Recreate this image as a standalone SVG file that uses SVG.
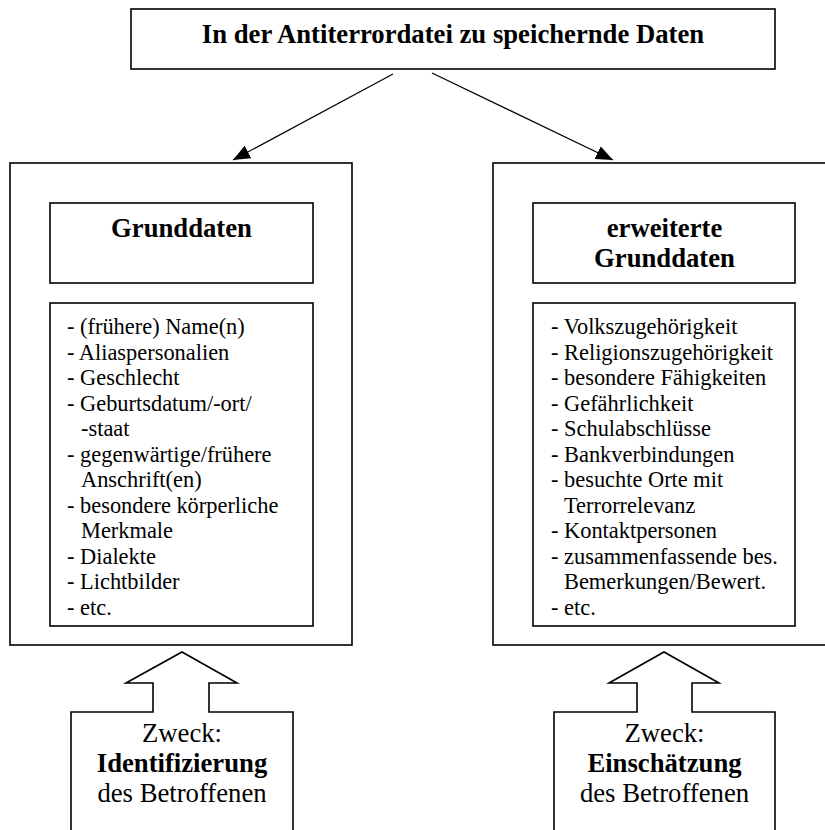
<svg xmlns="http://www.w3.org/2000/svg" width="825" height="830" viewBox="0 0 825 830">
<style>
.box{fill:#fff;stroke:#000;stroke-width:1.6}
.conn{fill:none;stroke:#000;stroke-width:1.2}
text{font-family:"Liberation Serif","Times New Roman",serif;fill:#000}
.title{font-size:26.7px;font-weight:bold;text-anchor:middle}
.item{font-size:22.4px}
.purpose{font-size:26.7px;text-anchor:middle}
</style>
<defs>
<marker id="ah" markerUnits="userSpaceOnUse" markerWidth="18" markerHeight="16" refX="17" refY="7" orient="auto">
<path d="M0,0 L17,7 L0,14 Z" fill="#000"/>
</marker>
</defs>
<rect width="825" height="830" fill="#fff"/>

<g id="top">
<rect class="box" x="131" y="9" width="644" height="60"/>
<text class="title" x="453" y="43">In der Antiterrordatei zu speichernde Daten</text>
</g>

<g id="left-outer">
<rect class="box" x="10" y="163" width="342" height="482"/>
</g>
<g id="grunddaten">
<rect class="box" x="50" y="203" width="263" height="80"/>
<text class="title" x="181.5" y="237">Grunddaten</text>
</g>
<g id="grunddaten-list">
<rect class="box" x="50" y="303" width="263" height="323"/>
<text class="item">
<tspan x="67" y="334">- (frühere) Name(n)</tspan>
<tspan x="67" y="359.5">- Aliaspersonalien</tspan>
<tspan x="67" y="385">- Geschlecht</tspan>
<tspan x="67" y="410.5">- Geburtsdatum/-ort/</tspan>
<tspan x="81" y="436">-staat</tspan>
<tspan x="67" y="461.5">- gegenwärtige/frühere</tspan>
<tspan x="81" y="487">Anschrift(en)</tspan>
<tspan x="67" y="512.5">- besondere körperliche</tspan>
<tspan x="81" y="538">Merkmale</tspan>
<tspan x="67" y="563.5">- Dialekte</tspan>
<tspan x="67" y="589">- Lichtbilder</tspan>
<tspan x="67" y="614.5">- etc.</tspan>
</text>
</g>

<g id="right-outer">
<rect class="box" x="493" y="163" width="342" height="482"/>
</g>
<g id="erweiterte">
<rect class="box" x="533" y="203" width="262" height="80"/>
<text class="title" x="664.5" y="237">erweiterte</text>
<text class="title" x="664.5" y="267">Grunddaten</text>
</g>
<g id="erweiterte-list">
<rect class="box" x="533" y="303" width="262" height="323"/>
<text class="item">
<tspan x="551" y="334">- Volkszugehörigkeit</tspan>
<tspan x="551" y="359.5">- Religionszugehörigkeit</tspan>
<tspan x="551" y="385">- besondere Fähigkeiten</tspan>
<tspan x="551" y="410.5">- Gefährlichkeit</tspan>
<tspan x="551" y="436">- Schulabschlüsse</tspan>
<tspan x="551" y="461.5">- Bankverbindungen</tspan>
<tspan x="551" y="487">- besuchte Orte mit</tspan>
<tspan x="564" y="512.5">Terrorrelevanz</tspan>
<tspan x="551" y="538">- Kontaktpersonen</tspan>
<tspan x="551" y="563.5">- zusammenfassende bes.</tspan>
<tspan x="564" y="589">Bemerkungen/Bewert.</tspan>
<tspan x="551" y="614.5">- etc.</tspan>
</text>
</g>

<g id="zweck-identifizierung">
<path class="box" d="M71,840 L71,712 L153,712 L153,683 L126,683 L182,652 L237,683 L209,683 L209,712 L293,712 L293,840"/>
<text class="purpose" x="182" y="742">Zweck:</text>
<text class="purpose" x="182" y="772" font-weight="bold">Identifizierung</text>
<text class="purpose" x="182" y="802">des Betroffenen</text>
</g>

<g id="zweck-einschaetzung">
<path class="box" d="M554,840 L554,712 L637,712 L637,683 L609,683 L664,652 L719,683 L692,683 L692,712 L775,712 L775,840"/>
<text class="purpose" x="664.5" y="742">Zweck:</text>
<text class="purpose" x="664.5" y="772" font-weight="bold">Einschätzung</text>
<text class="purpose" x="664.5" y="802">des Betroffenen</text>
</g>

<g id="connectors">
<path class="conn" d="M393,74 L233,160" marker-end="url(#ah)"/>
<path class="conn" d="M432,73 L613,160" marker-end="url(#ah)"/>
</g>
</svg>
